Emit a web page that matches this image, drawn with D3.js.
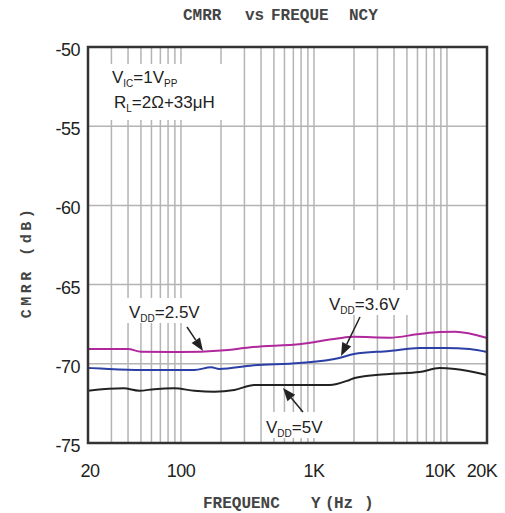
<!DOCTYPE html>
<html><head><meta charset="utf-8">
<script src="https://cdn.jsdelivr.net/npm/d3@7"></script>
<style>body{margin:0;background:#fff}svg{display:block}</style>
</head><body>
<script>
// ---- data ----
const xTickValues = [20, 100, 1000, 10000, 20000];
const xTickLabels = ["20", "100", "1K", "10K", "20K"];
const yTickValues = [-50, -55, -60, -65, -70, -75];

const freq25 = [20, 40, 50, 100, 200, 350, 800, 1500, 2000, 3700, 6200, 8800, 11500, 20000];
const cmrr25 = [-69.07, -69.07, -69.24, -69.26, -69.16, -68.94, -68.75, -68.4, -68.3, -68.35, -68.12, -68.0, -67.98, -68.37];

const freq36 = [20, 25, 50, 126, 169, 194, 344, 778, 1550, 2000, 3700, 6200, 9600, 14800, 20000];
const cmrr36 = [-70.26, -70.3, -70.39, -70.39, -70.22, -70.33, -70.1, -69.95, -69.63, -69.38, -69.19, -69.0, -69.0, -69.07, -69.26];

const freq5 = [20, 37, 48.5, 63, 89, 126, 178, 252, 356, 1310, 1850, 2020, 3700, 6200, 8800, 11500, 20000];
const cmrr5 = [-71.7, -71.55, -71.7, -71.6, -71.55, -71.7, -71.76, -71.65, -71.34, -71.34, -71.02, -70.9, -70.64, -70.52, -70.27, -70.33, -70.71];

const seriesNames = ["2.5V", "3.6V", "5V"];
const seriesColors = ["#b0289c", "#2b3fa6", "#222222"];

// ---- layout ----
const W = 505, H = 513;
const L = 88, R = 487, T = 47, B = 443;

const svg = d3.select("body").append("svg").attr("width", W).attr("height", H);
const x = d3.scaleLog().domain([20, 20000]).range([L, R]);
const y = d3.scaleLinear().domain([-75, -50]).range([B, T]);

// grid
const minor = [];
[10, 100, 1000, 10000].forEach(d => { for (let k = 1; k < 10; k++) { const v = d * k; if (v > 20 && v < 20000) minor.push(v); } });
svg.append("g").selectAll("line").data(minor).join("line")
  .attr("x1", d => x(d)).attr("x2", d => x(d)).attr("y1", T).attr("y2", B)
  .attr("stroke", "#b4b4b4").attr("stroke-width", 1.5);
svg.append("g").selectAll("line").data(yTickValues.filter(v => v > -75 && v < -50)).join("line")
  .attr("x1", L).attr("x2", R).attr("y1", d => y(d)).attr("y2", d => y(d))
  .attr("stroke", "#b4b4b4").attr("stroke-width", 1.5);

// white boxes behind annotations
const boxes = [[98, 64, 140, 56], [125, 298, 88, 25], [325, 290, 88, 25], [262, 412, 73, 26]];
svg.append("g").selectAll("rect").data(boxes).join("rect")
  .attr("x", d => d[0]).attr("y", d => d[1]).attr("width", d => d[2]).attr("height", d => d[3]).attr("fill", "#fff");

// lines
const series = [[freq25, cmrr25], [freq36, cmrr36], [freq5, cmrr5]];
const line = d3.line().x(d => x(d[0])).y(d => y(d[1])).curve(d3.curveMonotoneX);
series.forEach((s, i) => {
  svg.append("path").datum(s[0].map((f, j) => [f, s[1][j]]))
    .attr("d", line).attr("fill", "none").attr("stroke", seriesColors[i]).attr("stroke-width", 2);
});

// frame
svg.append("rect").attr("x", L).attr("y", T).attr("width", R - L).attr("height", B - T)
  .attr("fill", "none").attr("stroke", "#333").attr("stroke-width", 2.5);

// axes labels
const sans = "'Liberation Sans', Arial, sans-serif";
const mono = "'Liberation Mono', 'Courier New', monospace";
svg.append("g").selectAll("text").data(yTickValues).join("text")
  .attr("x", 80).attr("y", d => y(d) + 9).attr("text-anchor", "end")
  .attr("font-family", sans).attr("font-size", 18).attr("fill", "#222")
  .attr("letter-spacing", -0.5).text(d => d);
const xOff = [2, 0, 0, -7, -5];
svg.append("g").selectAll("text").data(xTickValues).join("text")
  .attr("x", (d, i) => x(d) + xOff[i]).attr("y", 477).attr("text-anchor", "middle")
  .attr("font-family", sans).attr("font-size", 18).attr("fill", "#222")
  .attr("letter-spacing", -0.5).text((d, i) => xTickLabels[i]);

// title
const titleParts = [["CMRR", 183], ["vs", 245], ["FREQUE", 271], ["NCY", 349]];
svg.append("g").selectAll("text").data(titleParts).join("text")
  .attr("x", d => d[1]).attr("y", 20).attr("font-family", mono).attr("font-weight", "bold")
  .attr("font-size", 16).attr("fill", "#444").text(d => d[0]);

// x axis title
const xtParts = [["FREQUENC", 203], ["Y", 311], ["(", 325], ["Hz", 334], [")", 364]];
svg.append("g").selectAll("text").data(xtParts).join("text")
  .attr("x", d => d[1]).attr("y", 508).attr("font-family", mono).attr("font-weight", "bold")
  .attr("font-size", 16).attr("fill", "#444").text(d => d[0]);

// y axis title
svg.append("text").attr("transform", "translate(31,262) rotate(-90)")
  .attr("text-anchor", "middle").attr("font-family", mono).attr("font-weight", "bold")
  .attr("font-size", 15).attr("letter-spacing", 3.5).attr("fill", "#444").text("CMRR (dB)");

// annotations
function subText(xp, yp, parts) {
  const t = svg.append("text").attr("x", xp).attr("y", yp).attr("font-family", sans)
    .attr("font-size", 17).attr("fill", "#222");
  parts.forEach(p => {
    const ts = t.append("tspan").text(p[0]);
    if (p[1]) ts.attr("font-size", 10).attr("dy", 4);
    else if (p[2]) ts.attr("dy", -4);
  });
  return t;
}
subText(112, 83, [["V"], ["IC", 1], ["=1V", 0, 1], ["PP", 1]]);
subText(114, 108, [["R"], ["L", 1], ["=2Ω+33μH", 0, 1]]);

subText(129, 318, [["V"], ["DD", 1], ["=2.5V", 0, 1]]);
subText(329, 310, [["V"], ["DD", 1], ["=3.6V", 0, 1]]);
subText(266, 433, [["V"], ["DD", 1], ["=5V", 0, 1]]);

// arrows
const arrows = [[187, 327, 203, 351], [360, 317, 341, 356], [303, 412, 283, 388]];
arrows.forEach(a => {
  const [x1, y1, x2, y2] = a;
  const ang = Math.atan2(y2 - y1, x2 - x1);
  const len = 13, wid = 5;
  const bx = x2 - len * Math.cos(ang), by = y2 - len * Math.sin(ang);
  svg.append("line").attr("x1", x1).attr("y1", y1).attr("x2", bx).attr("y2", by)
    .attr("stroke", "#222").attr("stroke-width", 1.5);
  const px = -Math.sin(ang) * wid, py = Math.cos(ang) * wid;
  svg.append("path").attr("d", `M${x2},${y2}L${bx + px},${by + py}L${bx - px},${by - py}Z`).attr("fill", "#222");
});
</script>
</body></html>
